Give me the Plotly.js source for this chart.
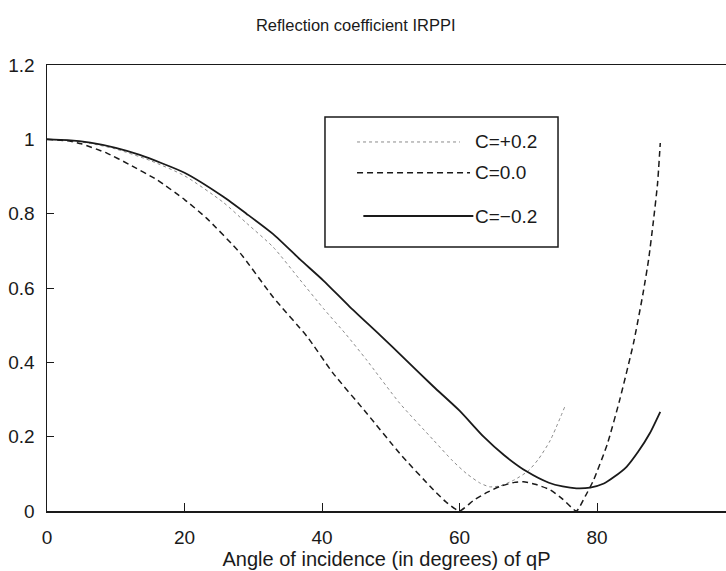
<!DOCTYPE html>
<html>
<head>
<meta charset="utf-8">
<script src="https://cdn.plot.ly/plotly-3.0.1.min.js"></script>
<style>html,body{margin:0;padding:0;background:#fff;}#chart{width:726px;height:571px;}</style>
</head>
<body>
<div id="chart"></div>
<script>
// Angle of incidence (degrees) and |R_PP| for each anisotropy value C
const anglePlus = [0, 3, 6.3, 10, 15, 20, 25.6, 29, 32.9, 36.8, 40.2, 43.5, 46.5, 51.3, 56.2, 59, 61, 63, 64.4, 66, 68, 70, 71.5, 73.2, 75.3];
const rPlus = [1, 0.997, 0.989, 0.974, 0.943, 0.902, 0.831, 0.775, 0.71, 0.622, 0.545, 0.475, 0.406, 0.29, 0.191, 0.135, 0.101, 0.075, 0.065, 0.068, 0.084, 0.108, 0.14, 0.19, 0.28];

const angleZero = [0, 3, 5, 8.7, 12, 16, 20, 23.2, 28.1, 32.9, 37.8, 41.6, 46.5, 51.3, 56.2, 58, 60, 62, 64, 66, 68, 69.3, 71, 73.2, 75, 77, 78.3, 79.5, 81.5, 83.3, 85.3, 86.7, 87.5, 88.2, 88.8, 89.2];
const rZero = [1, 0.996, 0.988, 0.963, 0.932, 0.891, 0.838, 0.788, 0.694, 0.575, 0.47, 0.371, 0.263, 0.155, 0.057, 0.025, 0, 0.028, 0.05, 0.067, 0.077, 0.079, 0.072, 0.057, 0.032, 0, 0.04, 0.083, 0.18, 0.299, 0.451, 0.586, 0.676, 0.78, 0.88, 0.99];

const angleMinus = [0, 3, 6.3, 10, 13.5, 20, 25.6, 29, 32.9, 36.8, 40.2, 44, 48.4, 52, 56.2, 60, 63.5, 66.5, 69.8, 73, 75, 77, 79, 81, 82.5, 84.3, 86, 87.7, 89.2];
const rMinus = [1, 0.998, 0.991, 0.977, 0.958, 0.91, 0.846, 0.8, 0.745, 0.677, 0.62, 0.55, 0.474, 0.41, 0.335, 0.27, 0.2, 0.15, 0.106, 0.076, 0.066, 0.061, 0.063, 0.074, 0.092, 0.119, 0.16, 0.21, 0.267];

const seriesNames = ["C=+0.2", "C=0.0", "C=\u22120.2"];
const xTicks = [0, 20, 40, 60, 80, 100];
const yTicks = [0, 0.2, 0.4, 0.6, 0.8, 1, 1.2];

const FONT = "Liberation Sans, Arial, Helvetica, sans-serif";
const INK = "#1a1a1a";

const traces = [
  {x: anglePlus, y: rPlus, name: seriesNames[0], mode: "lines",
   line: {color: "#8a8a8a", width: 1, dash: "dot", shape: "spline", smoothing: 0.6}},
  {x: angleZero, y: rZero, name: seriesNames[1], mode: "lines",
   line: {color: INK, width: 1.5, dash: "6px,4px", shape: "spline", smoothing: 0.5}},
  {x: angleMinus, y: rMinus, name: seriesNames[2], mode: "lines",
   line: {color: INK, width: 1.8, shape: "spline", smoothing: 0.6}}
];

// hand-drawn style legend box (paper coordinates)
const legendRows = [
  {y: 0.8274, x0: 0.4566, x1: 0.6082, dash: "dot", color: "#8a8a8a", width: 1},
  {y: 0.7585, x0: 0.4566, x1: 0.623, dash: "6px,4px", color: INK, width: 1.5},
  {y: 0.6614, x0: 0.4659, x1: 0.6279, dash: "solid", color: INK, width: 1.8}
];
const shapes = [
  {type: "rect", xref: "paper", yref: "paper", x0: 0.4094, x1: 0.7526, y0: 0.5919, y1: 0.8834,
   line: {color: INK, width: 1.5}, fillcolor: "rgba(0,0,0,0)"}
].concat(legendRows.map(r => ({
  type: "line", xref: "paper", yref: "paper", x0: r.x0, x1: r.x1, y0: r.y, y1: r.y,
  line: {color: r.color, width: r.width, dash: r.dash}
})));
const annotations = legendRows.map((r, i) => ({
  xref: "paper", yref: "paper", x: 0.628, y: r.y, xanchor: "left", yanchor: "middle",
  text: seriesNames[i], showarrow: false, font: {family: FONT, size: 19, color: INK}
}));

const layout = {
  width: 726, height: 571,
  margin: {l: 47, r: 0, t: 65, b: 60},
  paper_bgcolor: "#fff", plot_bgcolor: "#fff",
  showlegend: false,
  font: {family: FONT, color: INK},
  title: {text: "Reflection coefficient IRPPI", font: {family: FONT, size: 16.5, color: INK},
          xref: "container", yref: "container", x: 0.49, xanchor: "center", y: 0.955, yanchor: "middle"},
  xaxis: {range: [0, 98.76], tickvals: xTicks, ticktext: xTicks.map(String),
          ticks: "inside", ticklen: 8, tickwidth: 1, tickcolor: INK,
          showline: true, linecolor: INK, linewidth: 1.5, mirror: true,
          showgrid: false, zeroline: false, ticklabelstandoff: 9,
          tickfont: {family: FONT, size: 19, color: INK},
          title: {text: "Angle of incidence (in degrees) of qP", standoff: 0,
                  font: {family: FONT, size: 20, color: INK}}},
  yaxis: {range: [0, 1.2], tickvals: yTicks, ticktext: yTicks.map(String),
          ticks: "inside", ticklen: 7, tickwidth: 1, tickcolor: INK,
          showline: true, linecolor: INK, linewidth: 1.5, mirror: false,
          showgrid: false, zeroline: false, ticklabelstandoff: 7,
          tickfont: {family: FONT, size: 19, color: INK}},
  shapes: shapes,
  annotations: annotations
};

Plotly.newPlot("chart", traces, layout, {staticPlot: true, displayModeBar: false});
</script>
</body>
</html>
